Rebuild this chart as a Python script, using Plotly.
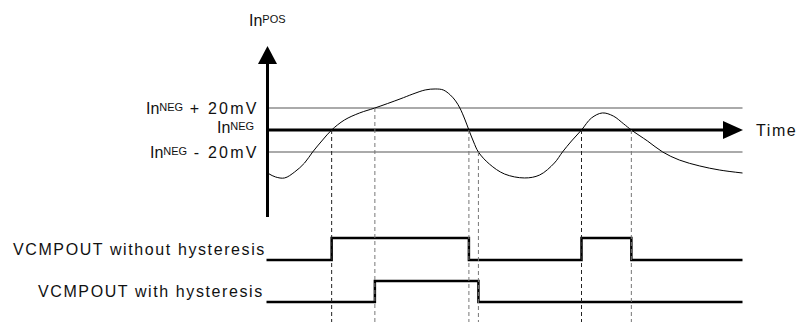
import numpy as np
import plotly.graph_objects as go

# comparator input (InPOS) relative to InNEG, time in arbitrary units, mV
t_pos = [0, 1.7, 3.6, 5.7, 7.8, 9.5, 11.6, 13.5, 16.2, 19.4, 22.6, 27.9, 30.6,
         33.2, 35.3, 37.0, 38.5, 39.6, 40.5, 41.6, 42.4, 43.4, 44.4, 46.7, 49.9,
         54.1, 57.3, 60.4, 62.1, 64.0, 66.1, 68.2, 70.5, 72.8, 75.0, 76.6, 80.0,
         83.2, 86.7, 91.0, 95.2, 100]
v_pos = [-39.1, -42.7, -43.6, -38.2, -30.0, -20.0, -9.1, 0, 9.1, 15.5, 20, 28.2,
         32.7, 36.4, 37.3, 36.4, 31.8, 26.4, 20, 9.1, 0, -10.9, -20, -30.9, -40,
         -43.6, -40.9, -30, -20, -10, 0, 10.9, 15.5, 12.7, 5.5, 0, -10, -20,
         -27.3, -32.7, -36.4, -39.1]
hyst_mv = 20
t_end = 100

W, H = 799, 322
X0, SX = 267.5, 4.75   # pixel of t=0, pixels per time unit
Y0, SY = 130, 1.1      # pixel of 0 mV, pixels per mV

FONT = "Liberation Sans, Arial, sans-serif"
INK = "#111111"


def t_of(x):
    return (x - X0) / SX


def v_of(y):
    return (Y0 - y) / SY


def px(x):
    return x / W


def py(y):
    return 1 - y / H


# comparator outputs, found from the input curve
tf = np.linspace(0, t_end, 20001)
vf = np.interp(tf, t_pos, v_pos)

plain = (vf > 0).astype(int)
hyst = np.zeros_like(plain)
state = 0
for i, v in enumerate(vf):
    if v > hyst_mv:
        state = 1
    elif v < -hyst_mv:
        state = 0
    hyst[i] = state


def edges(sig):
    idx = np.nonzero(np.diff(sig))[0] + 1
    return [tf[i] for i in idx]


e_plain = edges(plain)
e_hyst = edges(hyst)

fig = go.Figure()

# threshold lines and time axis
for lvl in (hyst_mv, -hyst_mv):
    fig.add_shape(type="line", x0=t_of(X0), x1=t_end, y0=lvl, y1=lvl,
                  line=dict(color="#aaaaaa", width=2), layer="below")
fig.add_shape(type="line", x0=t_of(X0 - 1), x1=t_of(725), y0=0, y1=0,
              line=dict(color="black", width=3))
fig.add_shape(type="line", x0=t_of(X0), x1=t_of(X0), y0=v_of(62), y1=v_of(217),
              line=dict(color="black", width=3))
# arrow heads
fig.add_shape(type="path", xref="paper", yref="paper",
              path=f"M {px(X0)} {py(46)} L {px(X0 - 9.5)} {py(64)} L {px(X0 + 9.5)} {py(64)} Z",
              fillcolor="black", line=dict(color="black", width=0))
fig.add_shape(type="path", xref="paper", yref="paper",
              path=f"M {px(743)} {py(Y0)} L {px(723)} {py(Y0 - 9)} L {px(723)} {py(Y0 + 9)} Z",
              fillcolor="black", line=dict(color="black", width=0))

# dashed guides from the switching points down to the bottom
y_bottom = v_of(H)
for i, te in enumerate(e_plain):
    col = "#222222" if i % 2 == 0 else "#777777"
    fig.add_shape(type="line", x0=te, x1=te, y0=0, y1=y_bottom,
                  line=dict(color=col, width=1, dash="4px,3px"))
for i, te in enumerate(e_hyst):
    lvl = hyst_mv if i % 2 == 0 else -hyst_mv
    fig.add_shape(type="line", x0=te, x1=te, y0=lvl, y1=y_bottom,
                  line=dict(color="#777777", width=1, dash="4px,3px"))

# input curve
fig.add_trace(go.Scatter(x=t_pos, y=v_pos, mode="lines", line_shape="spline",
                         line=dict(color="black", width=1)))

# digital outputs
lanes = [(e_plain, 260, 238), (e_hyst, 302, 281)]
for ed, y_lo, y_hi in lanes:
    lv = [0] + [(k + 1) % 2 for k in range(len(ed))]
    xs = [t_of(X0 - 1)] + ed + [t_end]
    ys = [v_of(y_lo) + (v_of(y_hi) - v_of(y_lo)) * s for s in lv + [lv[-1]]]
    fig.add_trace(go.Scatter(x=xs, y=ys, mode="lines", line_shape="hv",
                             line=dict(color="black", width=2.5)))


def label(text, x, y, anchor):
    fig.add_annotation(xref="paper", yref="paper", x=px(x), y=py(y), text=text,
                       showarrow=False, xanchor=anchor, yanchor="middle",
                       font=dict(family=FONT, size=16, color=INK))


sp = '<span style="letter-spacing:1.6px">{}</span>'
sp2 = '<span style="letter-spacing:2.2px">{}</span>'
sub = '<span style="font-size:11px;baseline-shift:3px">{}</span>'
label("In" + sub.format("POS"), 267, 20, "center")
label("In" + sub.format("NEG") + sp2.format(" + 20mV"), 261, 109, "right")
label("In" + sub.format("NEG"), 256, 127, "right")
label("In" + sub.format("NEG") + sp2.format(" - 20mV"), 261, 152, "right")
label(sp.format("Time"), 754, 130, "left")
label(sp.format("VCMPOUT without hysteresis"), 268, 249, "right")
label(sp.format("VCMPOUT with hysteresis"), 266, 291, "right")

fig.update_layout(
    width=W, height=H, margin=dict(l=0, r=0, t=0, b=0),
    paper_bgcolor="white", plot_bgcolor="white", showlegend=False,
    xaxis=dict(range=[t_of(0), t_of(W)], visible=False, fixedrange=True),
    yaxis=dict(range=[v_of(H), v_of(0)], visible=False, fixedrange=True),
)

# page body has a default 8px margin; drop it so the figure fills the window
fig.write_html("out.html", config={"staticPlot": True},
               post_script="document.body.style.margin='0';"
                           "document.body.style.overflow='hidden';")
